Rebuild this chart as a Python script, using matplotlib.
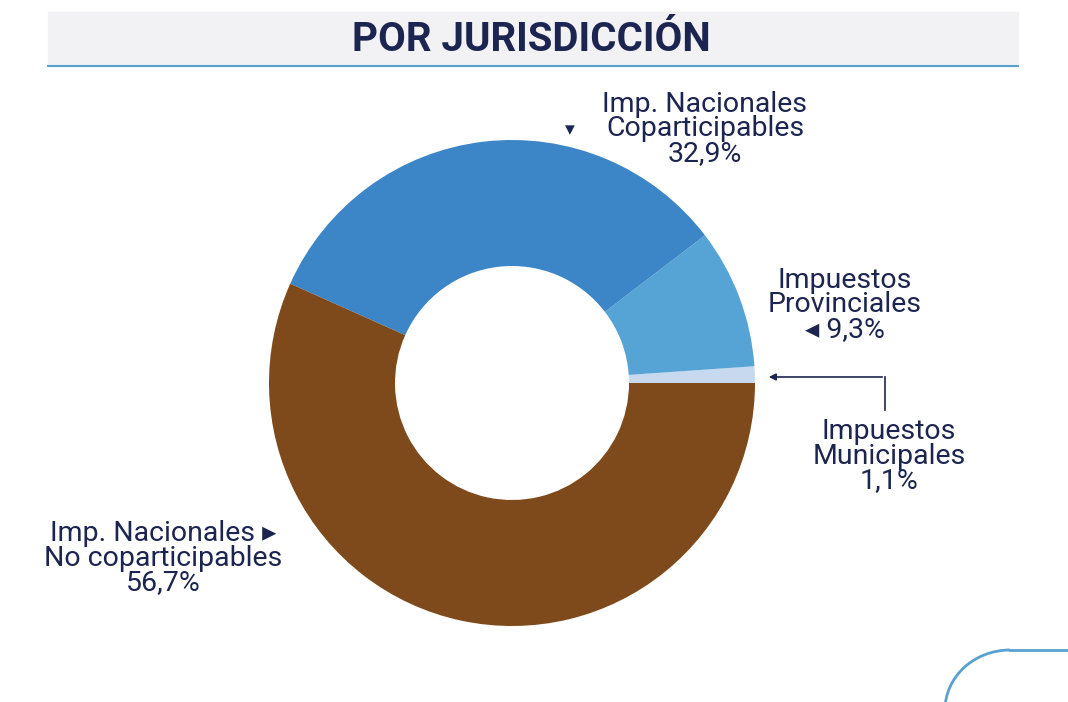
import matplotlib
matplotlib.use('Agg')
import matplotlib.pyplot as plt
from matplotlib.patches import Rectangle, Arc

plt.rcParams['font.family'] = ['Roboto', 'DejaVu Sans']

# data
labels = ["Impuestos Municipales", "Impuestos Provinciales",
          "Imp. Nacionales Coparticipables", "Imp. Nacionales No coparticipables"]
shares = [1.1, 9.3, 32.9, 56.7]
colors = ["#c6d9ee", "#56a3d5", "#3c85c6", "#7e4a1b"]
title = "POR JURISDICCIÓN"
navy = "#1c2550"

W, H = 1068, 702
fig = plt.figure(figsize=(W / 100, H / 100), dpi=100)
fig.patch.set_facecolor("white")
ax = fig.add_axes([0, 0, 1, 1])

def Y(py):
    return H - py

# donut
ax.pie(shares, colors=colors, startangle=0, counterclock=True,
       center=(512, Y(383)), radius=243, frame=True,
       wedgeprops=dict(width=126, edgecolor="none"))
ax.set_xlim(0, W)
ax.set_ylim(0, H)
ax.set_aspect("auto")
ax.axis("off")

# title band
ax.add_patch(Rectangle((48, Y(66)), 970, 54, color="#f2f2f4", zorder=0))
ax.plot([48, 1018], [Y(66), Y(66)], color="#5aa0d0", lw=1.5)
ax.text(531, Y(40), title, ha="center", va="center", fontsize=29,
        fontweight="bold", color=navy)

fs = 20.5
kw = dict(ha="center", va="center", fontsize=fs, color=navy, linespacing=0.88)
ax.text(705, Y(129), "Imp. Nacionales\nCoparticipables\n32,9%", **kw)
ax.text(570, Y(130), "▾", ha="center", va="center", fontsize=14, color=navy,
        family="DejaVu Sans")
ax.text(845, Y(305), "Impuestos\nProvinciales\n◂ 9,3%", **kw)
ax.text(889, Y(456), "Impuestos\nMunicipales\n1,1%", **kw)
ax.text(163, Y(558), "Imp. Nacionales ▸\nNo coparticipables\n56,7%", **kw)

# arrow for municipales
ax.plot([885, 885], [Y(410), Y(377)], color=navy, lw=1.2)
ax.annotate("", xy=(766, Y(377)), xytext=(885, Y(377)),
            arrowprops=dict(arrowstyle="-|>", color=navy, lw=1.2, mutation_scale=10))

# corner decoration
ax.add_patch(Arc((1010, Y(710)), 130, 120, theta1=90, theta2=180,
                 color="#5aa0d0", lw=2))
ax.plot([1010, 1068], [Y(650), Y(650)], color="#5aa0d0", lw=2)

fig.savefig("out.png", dpi=100)
